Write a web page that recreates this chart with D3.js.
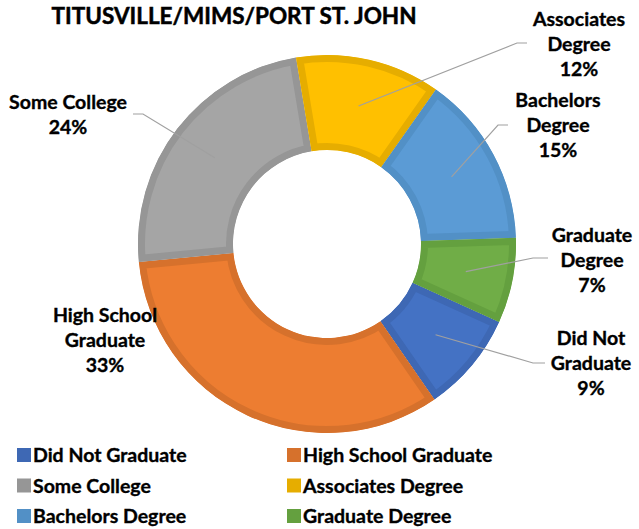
<!DOCTYPE html>
<html>
<head>
<meta charset="utf-8">
<script src="https://cdn.jsdelivr.net/npm/d3@7"></script>
<style>
  body { margin: 0; background: #fff; }
  text { font-family: Lato, "Open Sans", sans-serif; font-weight: bold; fill: #000; stroke: #000; stroke-width: 0.35px; }
</style>
</head>
<body>
<div id="chart"></div>
<script>
// Chart data
const categories = ["Did Not Graduate", "High School Graduate", "Some College",
  "Associates Degree", "Bachelors Degree", "Graduate Degree"];
const shares = [8.6, 33.1, 23.9, 12.4, 14.7, 7.3];
const fillColors = ["#4472C4", "#ED7D31", "#A5A5A5", "#FFC000", "#5B9BD5", "#70AD47"];
const edgeColors = ["#3E68B4", "#D6712C", "#969696", "#E6AD00", "#5290C6", "#64A03F"];

// Label text split into lines, and where Excel placed each label
const labelLines = [["Did Not", "Graduate"], ["High School", "Graduate"], ["Some College"],
  ["Associates", "Degree"], ["Bachelors", "Degree"], ["Graduate", "Degree"]];
const labelLayout = [
  { x: 591, y: 345, elbow: [533, 363], end: [545, 363] },
  { x: 105, y: 322, elbow: null, end: null },
  { x: 68, y: 109, elbow: [143, 114], end: [133, 114] },
  { x: 579, y: 26, elbow: [517, 43], end: [527, 43] },
  { x: 558, y: 107, elbow: [498, 125], end: [508, 125] },
  { x: 592, y: 242, elbow: [533, 258], end: [548, 258] }
];

const width = 639, height = 529;
const cx = 327, cy = 244;
const outerR = 189, innerR = 94;
const lineGap = 25;

const svg = d3.select("#chart")
  .append("svg")
  .attr("width", width)
  .attr("height", height);

// Title
svg.append("text")
  .attr("x", 234)
  .attr("y", 24)
  .attr("text-anchor", "middle")
  .style("font-size", "22.5px")
  .style("stroke-width", "0.5px")
  .text("TITUSVILLE/MIMS/PORT ST. JOHN");

const total = d3.sum(shares);
const rows = categories.map((c, i) => ({ name: c, value: shares[i], i: i }));

const startAngle = 114.4 * Math.PI / 180;
const pie = d3.pie()
  .sort(null)
  .value(d => d.value)
  .startAngle(startAngle)
  .endAngle(startAngle + 2 * Math.PI);

const arc = d3.arc().innerRadius(innerR).outerRadius(outerR);
const arcs = pie(rows);

const chartGroup = svg.append("g")
  .attr("transform", `translate(${cx}, ${cy})`);

const defs = svg.append("defs");
defs.selectAll("clipPath")
  .data(arcs)
  .enter()
  .append("clipPath")
  .attr("id", d => "slice-clip-" + d.data.i)
  .append("path")
  .attr("d", arc);

// Slices with an inner border in a darker shade
chartGroup.selectAll(".slice")
  .data(arcs)
  .enter()
  .append("path")
  .attr("class", "slice")
  .attr("d", arc)
  .attr("fill", d => fillColors[d.data.i])
  .attr("stroke", d => edgeColors[d.data.i])
  .attr("stroke-width", 14)
  .attr("stroke-linejoin", "miter")
  .attr("clip-path", d => `url(#slice-clip-${d.data.i})`);

// Leader lines from slice centroid to the label
arcs.forEach(d => {
  const lay = labelLayout[d.data.i];
  if (!lay.elbow) return;
  const c = arc.centroid(d);
  const pts = [[cx + c[0], cy + c[1]], lay.elbow, lay.end];
  svg.append("path")
    .attr("d", d3.line()(pts))
    .attr("fill", "none")
    .attr("stroke", "#A0A0A0")
    .attr("stroke-width", 1.2);
});

// Data labels
arcs.forEach(d => {
  const lay = labelLayout[d.data.i];
  const lines = labelLines[d.data.i].concat([Math.round(d.data.value / total * 100) + "%"]);
  const t = svg.append("text")
    .attr("text-anchor", "middle")
    .style("font-size", "19.5px");
  lines.forEach((ln, k) => {
    t.append("tspan")
      .attr("x", lay.x)
      .attr("y", lay.y + k * lineGap)
      .text(ln);
  });
});

// Legend
const legend = svg.selectAll(".legend")
  .data(rows)
  .enter()
  .append("g")
  .attr("class", "legend")
  .attr("transform", d => `translate(${d.i % 2 === 0 ? 17 : 287}, ${455 + Math.floor(d.i / 2) * 30.5})`);

legend.append("rect")
  .attr("x", 0)
  .attr("y", -7)
  .attr("width", 14)
  .attr("height", 14)
  .attr("fill", d => edgeColors[d.i]);

legend.append("text")
  .attr("x", 16)
  .attr("y", 0)
  .attr("dy", "0.36em")
  .style("font-size", "19.5px")
  .text(d => d.name);
</script>
</body>
</html>
